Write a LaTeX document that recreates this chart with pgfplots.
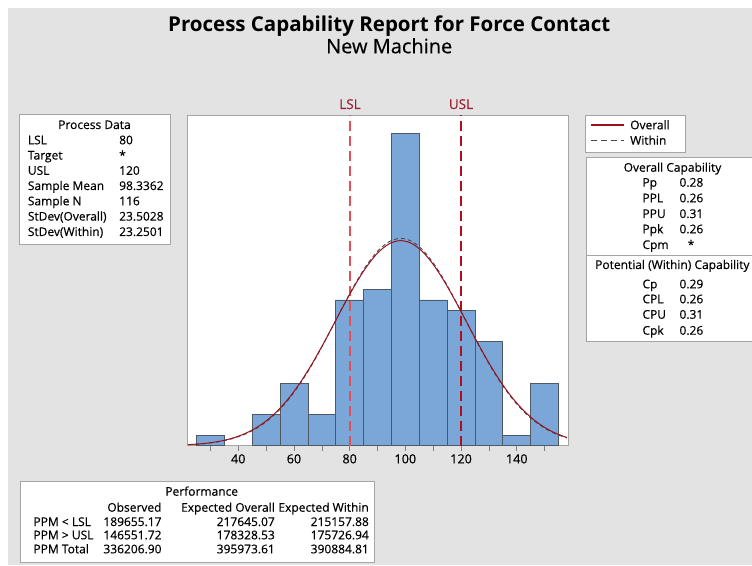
\documentclass[border=0pt]{standalone}
\usepackage{fontspec}
\setmainfont{Open Sans}
\newfontfamily\semi{Open Sans}[FakeBold=0.35]
\usepackage{pgfplots}
\pgfplotsset{compat=1.18}
\definecolor{bg}{RGB}{227,227,227}
\definecolor{barfill}{RGB}{123,166,216}
\definecolor{baredge}{RGB}{80,88,98}
\definecolor{overall}{RGB}{150,20,30}
\definecolor{within}{RGB}{70,70,70}
\definecolor{lslc}{RGB}{228,80,88}
\definecolor{uslc}{RGB}{175,15,30}
\definecolor{spec}{RGB}{155,30,50}
\definecolor{boxedge}{RGB}{165,165,165}
\newcommand{\fs}{\semi\fontsize{12}{14}\selectfont}
\begin{document}
\begin{tikzpicture}
\path[use as bounding box, fill=white] (0pt,0pt) rectangle (752pt,565pt);
\fill[bg] (8pt,0pt) rectangle (752pt,557pt);
\begin{axis}[at={(187.3pt,119.3pt)}, anchor=south west, scale only axis,
  width=380.7pt, height=330.7pt,
  xmin=21.7, xmax=158.4, ymin=0, ymax=31.75,
  axis background/.style={fill=white},
  axis line style={boxedge, line width=0.8pt},
  xtick={40,60,...,140}, minor xtick={30,50,...,150},
  ytick=\empty, xtick pos=left, tick align=outside,
  major tick length=5pt, minor tick length=5pt,
  tick style={color=gray, line width=0.6pt},
  /pgf/number format/assume math mode=true,
  xticklabel style={font=\semi\fontsize{12.6}{14}\selectfont, text=black},
]
\addplot[ybar, bar width=10, fill=barfill, draw=baredge, line width=0.7pt] coordinates {
(30,1) (50,3) (60,6) (70,3) (80,14) (90,15) (100,30) (110,14) (120,13) (130,10) (140,1) (150,6)};
\addplot[sharp plot, mark=none, draw=lslc, line width=1.2pt, dash pattern=on 10pt off 5pt] coordinates {(80.15,0) (80.15,31.75)};
\addplot[sharp plot, mark=none, draw=uslc, line width=1.2pt, dash pattern=on 10pt off 5pt] coordinates {(120,0) (120,31.75)};
\addplot[color=within, line width=0.9pt, dash pattern=on 4pt off 3pt, smooth] coordinates {
(22,0.0908) (26,0.1575) (30,0.2649) (34,0.4328) (38,0.6862) (42,1.0569) (46,1.5795) (50,2.2927)
(54,3.2302) (58,4.4194) (62,5.8691) (66,7.5667) (70,9.4711) (74,11.509) (78,13.578) (82,15.550)
(86,17.291) (90,18.665) (94,19.561) (98,19.902) (102,19.658) (106,18.852) (110,17.550) (114,15.863)
(118,13.919) (122,11.857) (126,9.8067) (130,7.8742) (134,6.1378) (138,4.6444) (142,3.4129)
(146,2.4341) (150,1.6850) (154,1.1331) (158,0.7394)};
\addplot[color=overall, line width=1pt, smooth] coordinates {
(22,0.1008) (26,0.1728) (30,0.2874) (34,0.4646) (38,0.7296) (42,1.1132) (46,1.6494) (50,2.3756)
(54,3.3223) (58,4.5149) (62,5.9595) (66,7.6417) (70,9.5193) (74,11.520) (78,13.542) (82,15.465)
(86,17.156) (90,18.489) (94,19.358) (98,19.688) (102,19.452) (106,18.671) (110,17.409) (114,15.768)
(118,13.875) (122,11.861) (126,9.8493) (130,7.9455) (134,6.2264) (138,4.7398) (142,3.5060)
(146,2.5186) (150,1.7572) (154,1.1917) (158,0.7850)};
\end{axis}
\begin{scope}[shift={(0pt,565pt)}, x=1pt, y=-1pt]
% titles
\node[anchor=base, inner sep=0pt, font=\bfseries\fontsize{20.5}{24}\selectfont] at (389.2,31.7) {Process Capability Report for Force Contact};
\node[anchor=base, inner sep=0pt, font=\semi\fontsize{20}{24}\selectfont] at (389.2,53.3) {New Machine};
% spec labels
\node[anchor=base, inner sep=0pt, text=spec, font=\semi\fontsize{13.5}{15}\selectfont] at (350,109) {LSL};
\node[anchor=base, inner sep=0pt, text=spec, font=\semi\fontsize{13.5}{15}\selectfont] at (461,109) {USL};
% process data
\draw[boxedge, line width=0.8pt, fill=white] (19,114) rectangle (170,244);
\begin{scope}[every node/.style={inner sep=0pt, font=\fs}]
\node[anchor=base] at (94.5,129) {Process Data};
\node[anchor=base west] at (27.7,144.3) {LSL};            \node[anchor=base west] at (119,144.3) {80};
\node[anchor=base west] at (27.7,159.5) {Target};         \node[anchor=base west] at (119,159.5) {*};
\node[anchor=base west] at (27.7,174.8) {USL};            \node[anchor=base west] at (119,174.8) {120};
\node[anchor=base west] at (27.7,190) {Sample Mean};      \node[anchor=base west] at (119,190) {98.3362};
\node[anchor=base west] at (27.7,205.3) {Sample N};       \node[anchor=base west] at (119,205.3) {116};
\node[anchor=base west] at (27.7,220.6) {StDev(Overall)}; \node[anchor=base west] at (119,220.6) {23.5028};
\node[anchor=base west] at (27.7,236) {StDev(Within)};    \node[anchor=base west] at (119,236) {23.2501};
\end{scope}
% legend
\draw[boxedge, line width=0.8pt, fill=white] (585.7,115) rectangle (685.7,152);
\draw[overall, line width=1.2pt] (591,125) -- (624,125);
\draw[within, line width=1pt, dash pattern=on 6pt off 4pt] (591,140.7) -- (624,140.7);
\begin{scope}[every node/.style={inner sep=0pt, font=\fs}]
\node[anchor=base west] at (630,129.3) {Overall};
\node[anchor=base west] at (630,144.7) {Within};
\end{scope}
% capability
\draw[boxedge, line width=0.8pt, fill=white] (586,157.7) rectangle (770,341.7);
\draw[boxedge, line width=0.8pt] (586,255) -- (770,255);
\begin{scope}[every node/.style={inner sep=0pt, font=\fs}]
\node[anchor=base] at (672.5,171.7) {Overall Capability};
\node[anchor=base west] at (642.3,186.7) {Pp};  \node[anchor=base west] at (679.3,186.7) {0.28};
\node[anchor=base west] at (642.3,202.3) {PPL}; \node[anchor=base west] at (679.3,202.3) {0.26};
\node[anchor=base west] at (642.3,218) {PPU};   \node[anchor=base west] at (679.3,218) {0.31};
\node[anchor=base west] at (642.3,233.3) {Ppk}; \node[anchor=base west] at (679.3,233.3) {0.26};
\node[anchor=base west] at (642.3,249) {Cpm};   \node[anchor=base] at (691,249) {*};
\node[anchor=base west] at (595,269) {Potential (Within) Capability};
\node[anchor=base west] at (642.3,288.3) {Cp};  \node[anchor=base west] at (679.3,288.3) {0.29};
\node[anchor=base west] at (642.3,303.3) {CPL}; \node[anchor=base west] at (679.3,303.3) {0.26};
\node[anchor=base west] at (642.3,318.7) {CPU}; \node[anchor=base west] at (679.3,318.7) {0.31};
\node[anchor=base west] at (642.3,334.7) {Cpk}; \node[anchor=base west] at (679.3,334.7) {0.26};
\end{scope}
% performance
\draw[boxedge, line width=0.8pt, fill=white] (20.7,481.7) rectangle (374,562.3);
\begin{scope}[every node/.style={inner sep=0pt, font=\fs}]
\node[anchor=base] at (201.7,495.7) {Performance};
\node[anchor=base east] at (161.7,511.7) {Observed};
\node[anchor=base east] at (275,511.7) {Expected Overall};
\node[anchor=base east] at (369,511.7) {Expected Within};
\node[anchor=base west] at (33.3,526) {PPM < LSL};
\node[anchor=base east] at (161.7,526) {189655.17};
\node[anchor=base east] at (275,526) {217645.07};
\node[anchor=base east] at (369,526) {215157.88};
\node[anchor=base west] at (33.3,539.3) {PPM > USL};
\node[anchor=base east] at (161.7,539.3) {146551.72};
\node[anchor=base east] at (275,539.3) {178328.53};
\node[anchor=base east] at (369,539.3) {175726.94};
\node[anchor=base west] at (33.3,553.3) {PPM Total};
\node[anchor=base east] at (161.7,553.3) {336206.90};
\node[anchor=base east] at (275,553.3) {395973.61};
\node[anchor=base east] at (369,553.3) {390884.81};
\end{scope}
\end{scope}
\end{tikzpicture}
\end{document}
